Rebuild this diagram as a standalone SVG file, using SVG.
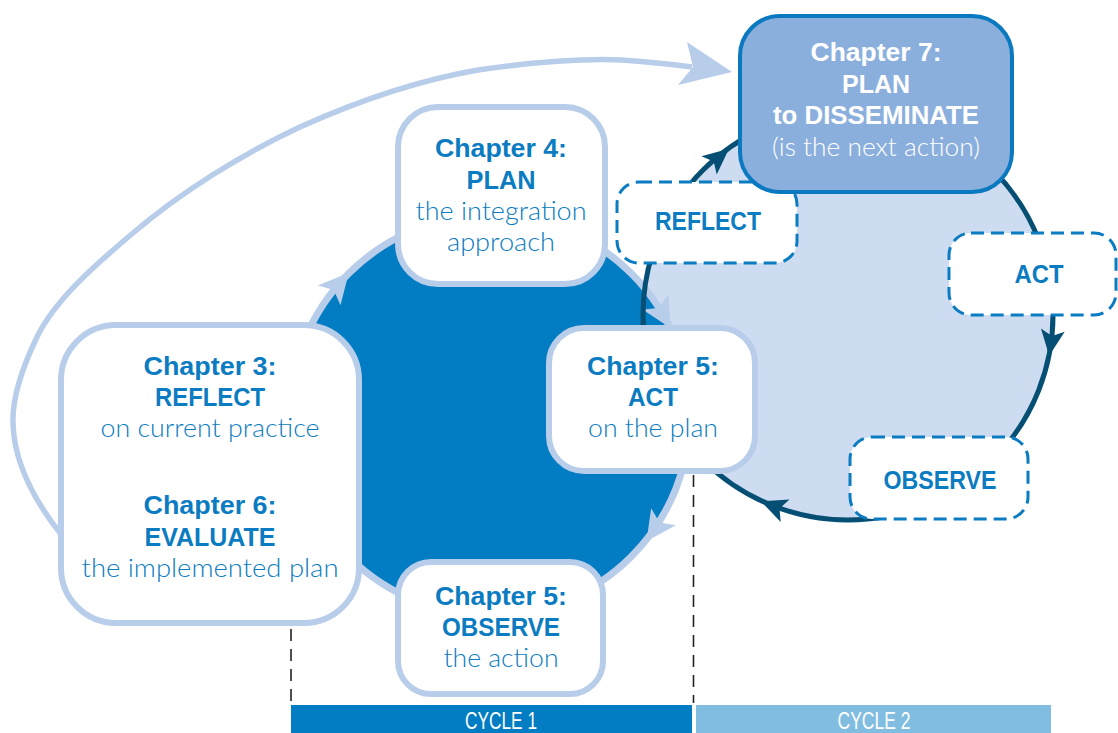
<svg xmlns="http://www.w3.org/2000/svg" width="1118" height="733" viewBox="0 0 1118 733">
<style>
.b{font-family:"Liberation Sans",Arial,sans-serif;font-weight:bold;font-size:26px;fill:#0b7cc1;text-anchor:middle}
.l{font-family:Lato,"Liberation Sans",sans-serif;font-weight:300;font-size:26px;fill:#0b7cc1;text-anchor:middle}
.w{fill:#ffffff}
.box{fill:#ffffff;stroke:#b8cdea;stroke-width:6}
.dbox{fill:#ffffff;stroke:#0b7cc1;stroke-width:3;stroke-dasharray:13 7}
.vdash{stroke:#222222;stroke-width:1.6;stroke-dasharray:12 8;fill:none}
.bar{font-family:"Liberation Sans",Arial,sans-serif;font-size:24px;fill:#ffffff;text-anchor:middle}
</style>
<defs>
<path id="ahl" d="M15,0 L-15,-15 L-8,0 L-15,15 Z" fill="#b8cdea"/>
<path id="ahn" d="M13,0 L-13,-12 L-7,0 L-13,12 Z" fill="#064f74"/>
</defs>
<rect width="1118" height="733" fill="#ffffff"/>
<g id="connectors">
<path d="M60,533 C38,505 14,465 13,423 C12,395 25,362 37,337 C55,300 95,265 133,233 C180,193 240,155 300,127 C360,100 420,80 478,70 C530,62 590,58 622,60 C650,62 670,64 692,67" fill="none" stroke="#b8cdea" stroke-width="5.5"/>
<path d="M732,72 L687,42 L693,67 L678,85 Z" fill="#b8cdea"/>
<g id="cycle2-fill"><circle cx="848" cy="315" r="205" fill="#cedcf1"/></g>
<g id="cycle1-circle">
<circle cx="490" cy="415" r="200" fill="#027cc2" stroke="#b8cdea" stroke-width="7"/>
<use href="#ahl" transform="translate(339,284) rotate(-49)"/>
<use href="#ahl" transform="translate(663,315) rotate(60)"/>
<use href="#ahl" transform="translate(655,529) rotate(124.6)"/>
</g>
<g id="cycle2-ring">
<circle cx="848" cy="315" r="205" fill="none" stroke="#064f74" stroke-width="5"/>
<use href="#ahn" transform="translate(719,157) rotate(-40)"/>
<use href="#ahn" transform="translate(1051,343) rotate(98)"/>
<use href="#ahn" transform="translate(773,506) rotate(201.5)"/>
</g>
<line class="vdash" x1="291" y1="629" x2="291" y2="703"/>
<line class="vdash" x1="693.5" y1="475" x2="693.5" y2="703"/>
</g>
<g id="cycle-bars">
<rect x="291" y="705" width="401" height="28" fill="#027cc2"/>
<text class="bar" x="501" y="729" textLength="72" lengthAdjust="spacingAndGlyphs">CYCLE 1</text>
<rect x="696" y="705" width="355" height="28" fill="#81bde1"/>
<text class="bar" x="874" y="729" textLength="73" lengthAdjust="spacingAndGlyphs">CYCLE 2</text>
</g>
<g id="ch3-ch6">
<rect class="box" x="61" y="325" width="298" height="298" rx="55"/>
<text class="b" x="210" y="375" textLength="133" lengthAdjust="spacingAndGlyphs">Chapter 3:</text>
<text class="b" x="210" y="406" textLength="110" lengthAdjust="spacingAndGlyphs">REFLECT</text>
<text class="l" x="210" y="437" textLength="219" lengthAdjust="spacingAndGlyphs">on current practice</text>
<text class="b" x="210" y="514" textLength="133" lengthAdjust="spacingAndGlyphs">Chapter 6:</text>
<text class="b" x="210" y="546" textLength="131" lengthAdjust="spacingAndGlyphs">EVALUATE</text>
<text class="l" x="210" y="577" textLength="257" lengthAdjust="spacingAndGlyphs">the implemented plan</text>
</g>
<g id="ch4">
<rect class="box" x="398" y="107" width="207" height="177" rx="40"/>
<text class="b" x="501" y="157" textLength="132" lengthAdjust="spacingAndGlyphs">Chapter 4:</text>
<text class="b" x="501" y="189" textLength="69" lengthAdjust="spacingAndGlyphs">PLAN</text>
<text class="l" x="501" y="220" textLength="171" lengthAdjust="spacingAndGlyphs">the integration</text>
<text class="l" x="501" y="251" textLength="108" lengthAdjust="spacingAndGlyphs">approach</text>
</g>
<g id="ch5-act">
<rect class="box" x="549" y="328" width="206" height="143" rx="35"/>
<text class="b" x="653" y="375" textLength="132" lengthAdjust="spacingAndGlyphs">Chapter 5:</text>
<text class="b" x="653" y="406" textLength="50" lengthAdjust="spacingAndGlyphs">ACT</text>
<text class="l" x="653" y="437" textLength="130" lengthAdjust="spacingAndGlyphs">on the plan</text>
</g>
<g id="ch5-observe">
<rect class="box" x="398" y="562" width="205" height="132" rx="33"/>
<text class="b" x="501" y="605" textLength="132" lengthAdjust="spacingAndGlyphs">Chapter 5:</text>
<text class="b" x="501" y="636" textLength="118" lengthAdjust="spacingAndGlyphs">OBSERVE</text>
<text class="l" x="501" y="667" textLength="115" lengthAdjust="spacingAndGlyphs">the action</text>
</g>
<g id="reflect2">
<rect class="dbox" x="617" y="182" width="180" height="81" rx="22"/>
<text class="b" x="708" y="230" style="font-size:25px" textLength="106" lengthAdjust="spacingAndGlyphs">REFLECT</text>
</g>
<g id="act2">
<rect class="dbox" x="949" y="233" width="167" height="82" rx="22"/>
<text class="b" x="1039" y="283" style="font-size:25px" textLength="49" lengthAdjust="spacingAndGlyphs">ACT</text>
</g>
<g id="observe2">
<rect class="dbox" x="850" y="437" width="178" height="82" rx="22"/>
<text class="b" x="940" y="489" style="font-size:25px" textLength="113" lengthAdjust="spacingAndGlyphs">OBSERVE</text>
</g>
<g id="ch7">
<rect x="740" y="16" width="272" height="176" rx="40" fill="#8bafdd" stroke="#0a79bf" stroke-width="4"/>
<text class="b w" x="876" y="61" textLength="131" lengthAdjust="spacingAndGlyphs">Chapter 7:</text>
<text class="b w" x="876" y="93" textLength="68" lengthAdjust="spacingAndGlyphs">PLAN</text>
<text class="b w" x="876" y="124" textLength="206" lengthAdjust="spacingAndGlyphs">to DISSEMINATE</text>
<text class="l w" x="876" y="156" textLength="208" lengthAdjust="spacingAndGlyphs">(is the next action)</text>
</g>
</svg>
